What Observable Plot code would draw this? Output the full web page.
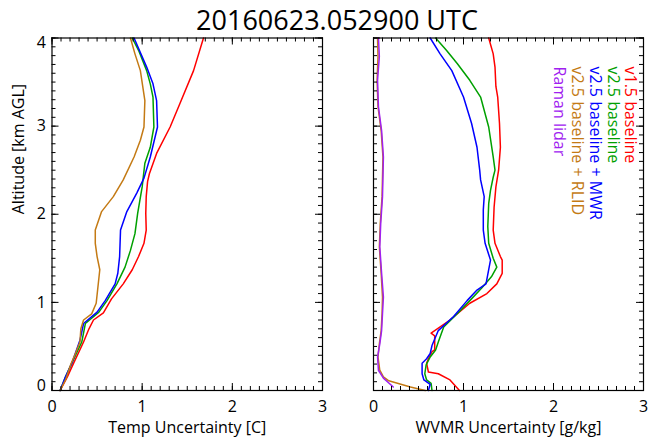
<!DOCTYPE html>
<html>
<head>
<meta charset="utf-8">
<script src="https://cdn.jsdelivr.net/npm/d3@7"></script>
<script src="https://cdn.jsdelivr.net/npm/@observablehq/plot@0.6"></script>
<style>
  html, body { margin: 0; padding: 0; background: white; }
  #wrap { position: relative; width: 649px; height: 437px; font-family: "Open Sans", sans-serif; }
  #title { position: absolute; left: 0; top: 2px; width: 674px; text-align: center; font-size: 27px; line-height: 36px; color: black; }
  #left, #right { position: absolute; top: 0; }
  #left { left: 0; }
  #right { left: 340px; }
</style>
</head>
<body>
<div id="wrap">
  <div id="title">20160623.052900 UTC</div>
  <div id="left"></div>
  <div id="right"></div>
</div>
<script>
// ---- Data: [value, altitude km AGL] ----
const seriesNames = ["v1.5 baseline", "v2.5 baseline", "v2.5 baseline + MWR", "v2.5 baseline + RLID", "Raman lidar"];
const seriesColors = ["#ff0000", "#00a000", "#0000ff", "#c47a14", "#a020f0"];

// Temperature uncertainty [C]
const tempV15 = [[0.09,0],[0.17,0.155],[0.24,0.31],[0.35,0.55],[0.41,0.70],[0.46,0.80],[0.57,0.88],[0.66,1.04],[0.79,1.21],[0.89,1.37],[0.96,1.52],[1.02,1.67],[1.045,1.82],[1.04,2.01],[1.045,2.20],[1.06,2.37],[1.08,2.46],[1.16,2.69],[1.31,2.99],[1.42,3.26],[1.57,3.63],[1.68,4.0]];
const tempV25 = [[0.09,0],[0.15,0.155],[0.22,0.31],[0.33,0.55],[0.37,0.76],[0.52,0.89],[0.61,1.02],[0.72,1.21],[0.81,1.40],[0.87,1.59],[0.92,1.78],[0.95,2.01],[1.00,2.31],[1.03,2.58],[1.09,2.76],[1.13,2.99],[1.12,3.33],[1.09,3.48],[1.05,3.63],[0.96,3.86],[0.89,4.0]];
const tempV25MWR = [[0.09,0],[0.15,0.155],[0.22,0.31],[0.31,0.57],[0.35,0.76],[0.50,0.89],[0.59,1.02],[0.70,1.21],[0.73,1.33],[0.75,1.52],[0.76,1.82],[0.83,2.03],[0.94,2.24],[1.02,2.41],[1.09,2.65],[1.17,2.99],[1.16,3.29],[1.12,3.48],[1.05,3.67],[0.91,4.0]];
const tempV25RLID = [[0.09,0.0],[0.15,0.12],[0.21,0.30],[0.26,0.42],[0.31,0.55],[0.32,0.70],[0.35,0.80],[0.44,0.87],[0.49,0.99],[0.53,1.37],[0.50,1.52],[0.48,1.67],[0.48,1.82],[0.55,2.03],[0.68,2.20],[0.79,2.39],[0.91,2.65],[0.98,2.84],[1.02,2.99],[1.03,3.29],[0.98,3.63],[0.92,3.82],[0.87,4.0]];

// Water vapor mixing ratio uncertainty [g/kg]
const wvmrV15 = [[0.955,0],[0.85,0.12],[0.72,0.19],[0.61,0.21],[0.59,0.31],[0.61,0.36],[0.65,0.44],[0.68,0.46],[0.68,0.62],[0.64,0.65],[0.85,0.80],[1.07,0.99],[1.26,1.10],[1.37,1.21],[1.43,1.33],[1.43,1.48],[1.41,1.52],[1.35,1.67],[1.33,1.82],[1.34,2.08],[1.36,2.31],[1.39,2.50],[1.41,2.76],[1.40,3.03],[1.38,3.33],[1.36,3.45],[1.35,3.67],[1.33,3.82],[1.28,4.0]];
const wvmrV25 = [[0.65,0],[0.64,0.08],[0.59,0.12],[0.57,0.19],[0.585,0.29],[0.63,0.38],[0.69,0.46],[0.72,0.55],[0.78,0.72],[0.93,0.87],[1.07,1.02],[1.20,1.16],[1.31,1.29],[1.37,1.40],[1.33,1.50],[1.28,1.67],[1.27,1.86],[1.28,2.12],[1.30,2.27],[1.33,2.42],[1.35,2.50],[1.33,2.65],[1.28,2.99],[1.19,3.33],[1.07,3.52],[0.93,3.71],[0.81,3.86],[0.69,4.0]];
const wvmrV25MWR = [[0.61,0],[0.63,0.07],[0.56,0.12],[0.54,0.19],[0.54,0.31],[0.59,0.36],[0.63,0.42],[0.65,0.51],[0.72,0.68],[0.89,0.84],[1.04,1.02],[1.15,1.14],[1.25,1.21],[1.30,1.48],[1.24,1.67],[1.22,1.82],[1.22,2.05],[1.23,2.20],[1.19,2.39],[1.18,2.50],[1.15,2.76],[1.09,3.03],[1.00,3.33],[0.87,3.63],[0.74,3.82],[0.63,4.0]];
const wvmrV25RLID = [[0.575,0],[0.41,0.04],[0.17,0.11],[0.11,0.155],[0.07,0.23],[0.05,0.38],[0.065,0.53],[0.085,0.68],[0.095,0.87],[0.10,1.06],[0.085,1.33],[0.065,1.63],[0.075,1.89],[0.095,2.20],[0.105,2.65],[0.085,2.95],[0.05,3.22],[0.04,3.52],[0.05,3.79],[0.045,4.0]];
const wvmrRaman = [[0.22,0.04],[0.11,0.14],[0.055,0.23],[0.045,0.38],[0.07,0.53],[0.09,0.68],[0.10,0.87],[0.11,1.06],[0.09,1.33],[0.07,1.63],[0.08,1.89],[0.10,2.20],[0.11,2.65],[0.09,2.95],[0.055,3.22],[0.045,3.52],[0.065,3.79],[0.055,4.0]];

// Axis ticks
const xMajorTicks = [0, 1, 2, 3];
const yMajorTicks = [0, 1, 2, 3, 4];
const xMinorTicks = d3.range(0, 31).map(i => i / 10);
const yMinorTicks = d3.range(0, 41).map(i => i / 10);

const tempSeries = [tempV15, tempV25, tempV25MWR, tempV25RLID];
const wvmrSeries = [wvmrV15, wvmrV25, wvmrV25MWR, wvmrV25RLID, wvmrRaman];

const H = 437, MT = 37.5, MB = 47;
const innerH = H - MT - MB;
const FONT = '"Open Sans", sans-serif';

function tickMarks(innerW) {
  const major = 7, minor = 4;
  return [
    Plot.tickX(xMinorTicks, {x: d => d, insetTop: innerH - minor, stroke: "black"}),
    Plot.tickX(xMinorTicks, {x: d => d, insetBottom: innerH - minor, stroke: "black"}),
    Plot.tickX(xMajorTicks, {x: d => d, insetTop: innerH - major, stroke: "black"}),
    Plot.tickX(xMajorTicks, {x: d => d, insetBottom: innerH - major, stroke: "black"}),
    Plot.tickY(yMinorTicks, {y: d => d, insetRight: innerW - minor, stroke: "black"}),
    Plot.tickY(yMinorTicks, {y: d => d, insetLeft: innerW - minor, stroke: "black"}),
    Plot.tickY(yMajorTicks, {y: d => d, insetRight: innerW - major, stroke: "black"}),
    Plot.tickY(yMajorTicks, {y: d => d, insetLeft: innerW - major, stroke: "black"}),
    Plot.text(xMajorTicks, {x: d => d, text: d => String(d), frameAnchor: "bottom", dy: 16, lineAnchor: "middle", fontSize: 16})
  ];
}

function lineMarks(series) {
  return series.map((s, i) => Plot.line(s, {x: d => d[0], y: d => d[1], stroke: seriesColors[i], strokeWidth: 1.5}));
}

function makePlot({width, ml, mr, series, xlabel, left}) {
  const innerW = width - ml - mr;
  const marks = [
    ...lineMarks(series),
    Plot.frame({stroke: "black", strokeWidth: 1.2}),
    ...tickMarks(innerW),
    Plot.text([xlabel], {text: d => d, frameAnchor: "bottom", dy: 37, lineAnchor: "middle", fontSize: 16})
  ];
  if (left) {
    marks.push(
      Plot.text([1, 2, 3], {y: d => d, text: d => String(d), frameAnchor: "left", dx: -6, textAnchor: "end", lineAnchor: "middle", fontSize: 16}),
      Plot.text([4], {y: d => d, text: d => String(d), frameAnchor: "left", dx: -6, dy: 5, textAnchor: "end", lineAnchor: "middle", fontSize: 16}),
      Plot.text([0], {y: d => d, text: d => String(d), frameAnchor: "left", dx: -6, dy: -5, textAnchor: "end", lineAnchor: "middle", fontSize: 16}),
      Plot.text(["Altitude [km AGL]"], {text: d => d, frameAnchor: "left", rotate: -90, dx: -33.5, lineAnchor: "middle", fontSize: 16})
    );
  } else {
    seriesNames.forEach((name, i) => {
      marks.push(Plot.text([name], {text: d => d, frameAnchor: "top-right", rotate: 90, textAnchor: "start", lineAnchor: "middle", dx: -13 - i * 17.8, dy: 28.5, fill: seriesColors[i], fontSize: 16}));
    });
  }
  return Plot.plot({
    width, height: H,
    marginLeft: ml, marginRight: mr, marginTop: MT, marginBottom: MB,
    x: {domain: [0, 3], axis: null},
    y: {domain: [0, 4], axis: null},
    style: {fontFamily: FONT, fontSize: "16px", background: "transparent", color: "black", overflow: "visible"},
    marks
  });
}

document.getElementById("left").append(makePlot({width: 340, ml: 51.5, mr: 18, series: tempSeries, xlabel: "Temp Uncertainty [C]", left: true}));
document.getElementById("right").append(makePlot({width: 309, ml: 33, mr: 6, series: wvmrSeries, xlabel: "WVMR Uncertainty [g/kg]", left: false}));
</script>
</body>
</html>
